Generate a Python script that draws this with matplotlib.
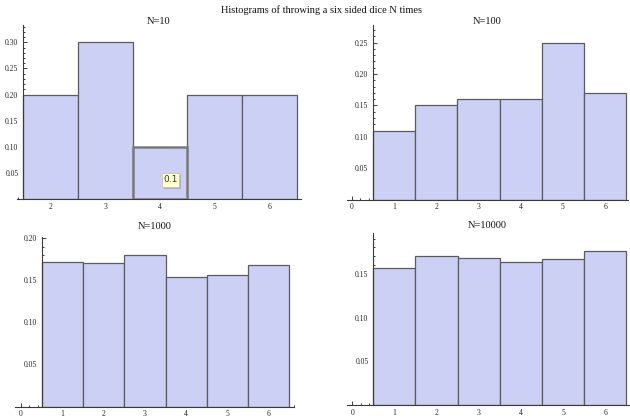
import matplotlib
matplotlib.use("Agg")
import matplotlib.pyplot as plt
from matplotlib.patches import Rectangle
from matplotlib.ticker import MultipleLocator, FixedLocator, FormatStrFormatter
from matplotlib.transforms import offset_copy

# Relative frequencies of each die face for different numbers of throws
faces_10 = [2, 3, 4, 5, 6]
freq_10 = [0.2, 0.3, 0.1, 0.2, 0.2]

faces_100 = [1, 2, 3, 4, 5, 6]
freq_100 = [0.11, 0.15, 0.16, 0.16, 0.25, 0.17]

faces_1000 = [1, 2, 3, 4, 5, 6]
freq_1000 = [0.172, 0.170, 0.180, 0.154, 0.156, 0.168]

faces_10000 = [1, 2, 3, 4, 5, 6]
freq_10000 = [0.156, 0.170, 0.168, 0.163, 0.167, 0.176]

titles = ["N=10", "N=100", "N=1000", "N=10000"]
suptitle = "Histograms of throwing a six sided dice N times"

FILL = "#cbd0f4"
EDGE = "#5c5c5c"
AXIS = "#3a3a3a"
SERIF = ["Liberation Serif", "DejaVu Serif"]

plt.rcParams["font.family"] = SERIF

W, H = 630.0, 417.0
fig = plt.figure(figsize=(W / 100, H / 100), dpi=100)
fig.patch.set_facecolor("white")


def px_rect(left, right, bottom, top):
    return [left / W, 1 - bottom / H, (right - left) / W, (bottom - top) / H]


def style(ax, xlim, ylim, yaxis_x, xmajor, ymajor):
    ax.set_xlim(*xlim)
    ax.set_ylim(*ylim)
    ax.patch.set_alpha(0)
    for s in ("top", "right"):
        ax.spines[s].set_visible(False)
    ax.spines["left"].set_position(("data", yaxis_x))
    ax.spines["bottom"].set_position(("data", 0))
    for s in ("left", "bottom"):
        ax.spines[s].set_color(AXIS)
        ax.spines[s].set_linewidth(0.8)
    ax.xaxis.set_major_locator(FixedLocator(xmajor))
    ax.xaxis.set_minor_locator(MultipleLocator(0.2))
    ax.yaxis.set_major_locator(FixedLocator(ymajor))
    ax.yaxis.set_minor_locator(MultipleLocator(0.01))
    ax.yaxis.set_major_formatter(FormatStrFormatter("%.2f"))
    ax.xaxis.set_major_formatter(FormatStrFormatter("%d"))
    ax.tick_params(axis="both", which="both", direction="in", color=AXIS,
                   labelsize=5.5, labelcolor="#222222", width=0.7)
    ax.tick_params(axis="both", which="major", length=3.2)
    ax.tick_params(axis="both", which="minor", length=1.7)
    ax.tick_params(axis="x", which="major", pad=2.5)
    ax.tick_params(axis="y", which="major", pad=3.5)


def bars(ax, faces, freq, highlight=None):
    rects = ax.bar(faces, freq, width=1.0, color=FILL, edgecolor=EDGE,
                   linewidth=0.9, zorder=2)
    if highlight is not None:
        i = faces.index(highlight)
        rects[i].set_edgecolor("#7a7a7a")
        rects[i].set_linewidth(1.8)
        rects[i].set_zorder(3)
    return rects


def panel_title(text, x_px, y_px):
    fig.text(x_px / W, 1 - y_px / H, text, ha="center", va="center",
             fontsize=7.5, color="#111111")


# N=10
ax1 = fig.add_axes(px_rect(16.8, 301.0, 199.4, 25.0))
bars(ax1, faces_10, freq_10, highlight=4)
style(ax1, (1.38, 6.58), (0, 0.333), 1.5, [2, 3, 4, 5, 6],
      [0.05, 0.10, 0.15, 0.20, 0.25, 0.30])
panel_title(titles[0], 159, 21.5)

# tooltip on the highlighted bar: box, soft drop shadow, value text
hi = faces_10.index(4)
tip_x, tip_y, tip_w, tip_h = 4.04, 0.0237, 0.31, 0.027
shadow_tr = offset_copy(ax1.transData, fig=fig, x=1.6, y=-1.6, units="points")
ax1.add_patch(Rectangle((tip_x, tip_y), tip_w, tip_h, transform=shadow_tr,
                        fc=(0.45, 0.45, 0.5, 0.35), ec="none", zorder=4))
ax1.add_patch(Rectangle((tip_x, tip_y), tip_w, tip_h, fc="#ffffd0",
                        ec="#c4c4a8", lw=0.6, zorder=5))
ax1.text(tip_x + tip_w / 2, tip_y + tip_h / 2, f"{freq_10[hi]:g}",
         fontsize=6.5, ha="center", va="center", family=["DejaVu Sans"],
         color="#333333", zorder=6)

# N=100
ax2 = fig.add_axes(px_rect(346.8, 628.3, 199.7, 25.0))
bars(ax2, faces_100, freq_100)
style(ax2, (-0.12, 6.55), (0, 0.278), 0.5, [0, 1, 2, 3, 4, 5, 6],
      [0.05, 0.10, 0.15, 0.20, 0.25])
panel_title(titles[1], 487.5, 21.5)

# N=1000
ax3 = fig.add_axes(px_rect(15.3, 293.6, 406.6, 237.3))
bars(ax3, faces_1000, freq_1000)
style(ax3, (-0.14, 6.6), (0, 0.201), 0.5, [0, 1, 2, 3, 4, 5, 6],
      [0.05, 0.10, 0.15, 0.20])
panel_title(titles[2], 154.5, 226.5)

# N=10000
ax4 = fig.add_axes(px_rect(346.7, 628.6, 405.3, 233.3))
bars(ax4, faces_10000, freq_10000)
style(ax4, (-0.13, 6.55), (0, 0.196), 0.5, [0, 1, 2, 3, 4, 5, 6],
      [0.05, 0.10, 0.15])
panel_title(titles[3], 487.5, 226)

fig.text(0.511, 1 - 10.5 / H, suptitle, ha="center", va="center",
         fontsize=7.5, color="#111111")

fig.savefig("out.png", dpi=100, facecolor="white")
